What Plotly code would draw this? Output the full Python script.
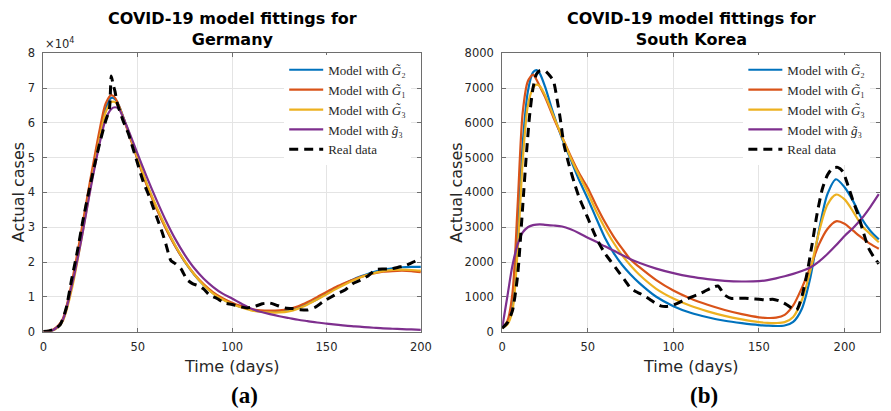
import plotly.graph_objects as go

# ---------------- Germany (cases) ----------------
t_de = [0, 5, 10, 15, 20, 25, 30, 33, 36, 38, 40, 45, 50, 55, 60, 65, 70, 75, 80, 85, 90, 95,
        100, 105, 110, 115, 120, 125, 130, 135, 140, 145, 150, 155, 160, 165, 170, 175, 180,
        185, 190, 195, 200]
de_G2 = [0, 400, 3000, 13000, 27000, 42500, 57000, 64000, 67200, 66800, 65000, 57500, 49500, 42000,
         35500, 29600, 24500, 20000, 16300, 13300, 11000, 9300, 8000, 7000, 6300, 5900, 5700, 5800,
         6100, 6900, 8000, 9300, 11000, 12500, 13900, 15200, 16200, 17100, 17800, 18200, 18500,
         18600, 18600]
de_G1 = [0, 500, 3300, 14000, 28500, 44000, 58500, 65500, 68000, 67200, 65000, 57300, 49300, 41800,
         35300, 29500, 24400, 20100, 16500, 13600, 11300, 9600, 8300, 7300, 6500, 6100, 6000, 6100,
         6500, 7300, 8500, 9900, 11400, 12800, 14000, 15100, 16000, 16700, 17200, 17400, 17500,
         17400, 17100]
de_G3 = [0, 300, 2700, 12000, 26000, 41500, 56000, 63000, 66000, 66000, 64500, 57800, 49800, 42300,
         35800, 29900, 24700, 20200, 16400, 13300, 10900, 9200, 7900, 6900, 6100, 5700, 5500, 5500,
         5800, 6600, 7800, 9200, 10700, 12200, 13600, 14900, 16000, 16800, 17400, 17700, 17800,
         17700, 17500]
de_g3 = [0, 400, 3000, 13000, 26000, 41000, 54500, 61000, 64000, 64500, 64000, 58000, 51000, 44200,
         37800, 31800, 26500, 22000, 18200, 15200, 12800, 10900, 9500, 8000, 6600, 5700, 5000, 4400,
         3900, 3400, 3000, 2600, 2300, 2000, 1700, 1500, 1300, 1100, 900, 800, 700, 600, 500]
t_de_real = [0, 3, 6, 9, 12, 15, 18, 21, 24, 27, 30, 33, 35, 36, 37, 38, 39, 42, 45, 49, 53, 56, 60,
             63, 65, 67.5, 70, 73, 76, 79, 82, 85, 88, 92, 96, 100, 104, 108, 112, 116, 120, 124,
             128, 132, 136, 140, 144, 148, 152, 156, 160, 164, 168, 172, 176, 180, 184, 188, 192,
             196, 200]
de_real = [0, 200, 700, 2000, 6500, 15000, 23000, 32000, 40000, 47500, 54500, 60500, 64000, 73500,
           71000, 69000, 66000, 61000, 57000, 50000, 43000, 39000, 33000, 28500, 25000, 20500,
           19500, 18000, 15000, 13800, 13200, 12200, 10500, 9500, 8200, 7800, 7200, 6800, 7200,
           8000, 8200, 7500, 6800, 6600, 6300, 6200, 7000, 8500, 9800, 11000, 12000, 13800, 14800,
           16000, 17800, 18000, 18000, 18500, 19000, 20000, 21200]

# ---------------- South Korea (cases) ----------------
t_kr = [0, 3, 6, 9, 12, 15, 18, 20, 22, 25, 30, 35, 40, 45, 50, 55, 60, 65, 70, 75, 80, 90, 100,
        110, 120, 130, 140, 150, 155, 160, 165, 170, 175, 180, 185, 190, 195, 200, 205, 210, 215,
        220]
kr_G2 = [100, 250, 700, 2700, 5400, 6900, 7450, 7520, 7420, 7050, 6250, 5550, 4950, 4350, 3820,
         3250, 2700, 2270, 1920, 1640, 1400, 1000, 730, 540, 410, 310, 240, 185, 170, 160, 175,
         280, 650, 1550, 2900, 3950, 4380, 4150, 3750, 3250, 2900, 2650]
kr_G1 = [100, 300, 1100, 3600, 6300, 7200, 7390, 7250, 7050, 6750, 6150, 5600, 5050, 4550, 4130,
         3620, 3150, 2740, 2390, 2070, 1860, 1480, 1180, 950, 770, 620, 500, 410, 390, 400, 480,
         750, 1250, 1850, 2500, 2950, 3170, 3100, 2900, 2700, 2520, 2380]
kr_G3 = [100, 200, 600, 2300, 4900, 6500, 7000, 7100, 7060, 6800, 6200, 5600, 5000, 4480, 4000,
         3450, 2980, 2560, 2200, 1900, 1640, 1230, 950, 740, 580, 450, 350, 270, 250, 245, 270,
         420, 900, 1750, 2850, 3650, 3940, 3800, 3450, 3050, 2800, 2570]
kr_g3 = [100, 1000, 1900, 2500, 2850, 3000, 3060, 3075, 3080, 3070, 3050, 3020, 2940, 2830, 2700,
         2580, 2450, 2330, 2200, 2080, 1980, 1810, 1680, 1580, 1510, 1460, 1440, 1450, 1480, 1530,
         1590, 1660, 1740, 1840, 2010, 2230, 2480, 2750, 2980, 3250, 3580, 3950]
t_kr_real = [0, 3, 6, 9, 12, 14, 16, 18, 20, 22, 25, 28, 30, 32, 34, 36, 39, 42, 45, 48, 51, 54,
             57, 60, 63, 66, 69, 72, 75, 78, 81, 84, 87, 90, 93, 96, 99, 102, 106, 110, 114, 118,
             122, 126, 130, 134, 138, 142, 146, 150, 154, 158, 162, 166, 169, 172, 175, 178, 181,
             184, 187, 190, 193, 196, 199, 202, 205, 208, 211, 214, 217, 220]
kr_real = [100, 250, 600, 1600, 3600, 5000, 6200, 7000, 7400, 7500, 7500, 7350, 7200, 6700, 6100,
           5400, 4800, 4300, 3850, 3500, 3150, 2800, 2500, 2250, 2050, 1850, 1650, 1450, 1250,
           1150, 1080, 1000, 900, 800, 730, 720, 740, 800, 900, 980, 1060, 1150, 1250, 1310, 1050,
           950, 960, 960, 940, 930, 910, 930, 880, 780, 680, 620, 1000, 1650, 2500, 3400, 4100,
           4500, 4700, 4720, 4600, 4200, 3750, 3350, 2850, 2400, 2150, 1950]

names = ["Model with <i>G̃</i>₂", "Model with <i>G̃</i>₁",
         "Model with <i>G̃</i>₃", "Model with <i>g̃</i>₃", "Real data"]
colors = ["#0072BD", "#D95319", "#EDB120", "#7E2F8E", "#000000"]

de_x_ticks = [0, 50, 100, 150, 200]
de_y_ticks = [0, 10000, 20000, 30000, 40000, 50000, 60000, 70000, 80000]
de_y_text = ["0", "1", "2", "3", "4", "5", "6", "7", "8"]
kr_x_ticks = [0, 50, 100, 150, 200]
kr_y_ticks = [0, 1000, 2000, 3000, 4000, 5000, 6000, 7000, 8000]

fig = go.Figure()

panels = [
    (t_de, [de_G2, de_G1, de_G3, de_g3], t_de_real, de_real, "x", "y", "legend"),
    (t_kr, [kr_G2, kr_G1, kr_G3, kr_g3], t_kr_real, kr_real, "x2", "y2", "legend2"),
]
for t, models, tr, real, xa, ya, lg in panels:
    for i, m in enumerate(models):
        fig.add_trace(go.Scatter(x=t, y=m, mode="lines", name=names[i], xaxis=xa, yaxis=ya,
                                 legend=lg,
                                 line=dict(color=colors[i], width=2.2, shape="spline",
                                           smoothing=0.8)))
    fig.add_trace(go.Scatter(x=tr, y=real, mode="lines", name=names[4], xaxis=xa, yaxis=ya,
                             legend=lg,
                             line=dict(color="black", width=3, dash="9px,6px",
                                       shape="spline", smoothing=0.6)))

W, H = 891, 411
ydom = [(H - 336) / H, (H - 48) / H]
axis_common = dict(showgrid=True, gridcolor="#e4e4e4", gridwidth=1, showline=True,
                   linecolor="#6e6e6e", linewidth=1, mirror="ticks", ticks="inside",
                   ticklen=4, tickcolor="#6e6e6e", zeroline=False,
                   tickfont=dict(family="DejaVu Sans", size=11.5, color="#262626"))

legend_common = dict(xanchor="left", yanchor="top", bgcolor="white", borderwidth=0,
                     itemwidth=34, tracegroupgap=0,
                     font=dict(family="Liberation Serif", size=13, color="#262626"))

fig.update_layout(
    width=W, height=H, autosize=False,
    margin=dict(l=0, r=0, t=0, b=0),
    paper_bgcolor="white", plot_bgcolor="white",
    xaxis=dict(domain=[40 / W, 424 / W], range=[0, 200], tickvals=de_x_ticks,
               anchor="y", ticklabelstandoff=5, **axis_common),
    yaxis=dict(domain=ydom, range=[0, 80000], tickvals=de_y_ticks, ticktext=de_y_text,
               anchor="x", ticklabelstandoff=5, **axis_common),
    xaxis2=dict(domain=[506.7 / W, 1.0], range=[0, 220.7], tickvals=kr_x_ticks,
                anchor="y2", ticklabelstandoff=5, **axis_common),
    yaxis2=dict(domain=ydom, range=[0, 8000], tickvals=kr_y_ticks,
                anchor="x2", ticklabelstandoff=5, **axis_common),
    legend=dict(x=285 / W, y=1 - 49.5 / H, **legend_common),
    legend2=dict(x=752 / W, y=1 - 49.5 / H, **legend_common),
    showlegend=True,
)

ann = []
for cx, country, lab in [(232, "Germany", "(a)"), (699, "South Korea", "(b)")]:
    ann.append(dict(text="<b>COVID-19 model fittings for<br>" + country + "</b>",
                    x=cx / W, y=1 - 23 / H,
                    xref="paper", yref="paper", showarrow=False, xanchor="center",
                    yanchor="middle", align="center",
                    font=dict(family="DejaVu Sans", size=16, color="black")))
    ann.append(dict(text="Time (days)", x=cx / W, y=1 - 372 / H, xref="paper", yref="paper",
                    showarrow=False, xanchor="center", yanchor="middle",
                    font=dict(family="DejaVu Sans", size=16, color="#262626")))
    ann.append(dict(text="<b>" + lab + "</b>", x=(cx + 13) / W, y=1 - 402 / H, xref="paper",
                    yref="paper", showarrow=False, xanchor="center", yanchor="middle",
                    font=dict(family="Liberation Serif", size=23, color="black")))
for lx in [15, 460]:
    ann.append(dict(text="Actual cases", x=lx / W, y=1 - 192 / H, xref="paper", yref="paper",
                    showarrow=False, xanchor="center", yanchor="middle", textangle=-90,
                    font=dict(family="DejaVu Sans", size=16, color="#262626")))
ann.append(dict(text="×10<sup>4</sup>", x=40 / W, y=1 - 38 / H, xref="paper", yref="paper",
                showarrow=False, xanchor="left", yanchor="middle",
                font=dict(family="DejaVu Sans", size=11.5, color="#262626")))
fig.update_layout(annotations=ann)

fig.write_html("out.html")
